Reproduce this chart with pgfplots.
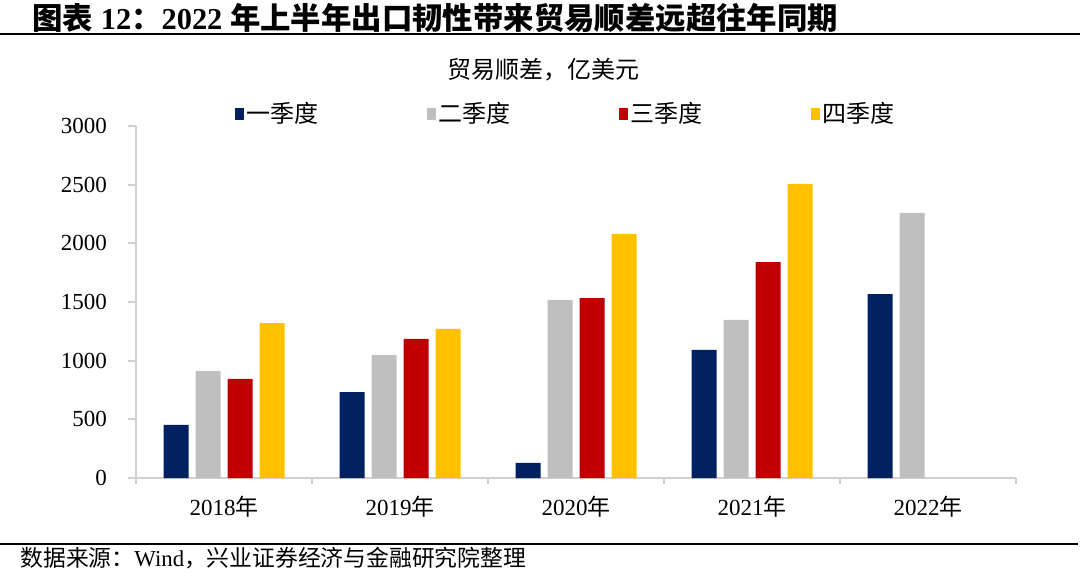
\documentclass[border=0pt]{standalone}
\usepackage{fontspec}
\setmainfont{Liberation Serif}
\newfontfamily\cjk{Noto Sans CJK SC}
\usepackage{pgfplots}
\pgfplotsset{compat=1.18}
\definecolor{qone}{HTML}{002060}
\definecolor{qtwo}{HTML}{BFBFBF}
\definecolor{qthree}{HTML}{C00000}
\definecolor{qfour}{HTML}{FFC000}
\definecolor{axisgray}{HTML}{D0D0D0}

\begin{document}
\begin{tikzpicture}
\useasboundingbox (0,0) rectangle (540pt,-289pt);
% title and rule
\node[anchor=west, inner sep=0pt] at (16pt,-9pt)
  {\fontsize{15.2}{17}\selectfont\bfseries{\cjk 图表} 12{\cjk ：}2022 {\cjk 年上半年出口韧性带来贸易顺差远超往年同期}};
\draw[line width=0.8pt] (0,-17pt) -- (540pt,-17pt);
\node at (271.5pt,-35pt) {\cjk\fontsize{12}{14}\selectfont 贸易顺差，亿美元};

\begin{axis}[
  at={(68pt,-239pt)}, anchor=south west,
  scale only axis, width=440pt, height=176pt,
  xmin=0, xmax=5, ymin=0, ymax=3000,
  axis x line*=bottom, axis y line*=left,
  axis line style={axisgray, line width=0.9pt, -},
  ybar=3.5pt, bar width=12.5pt,
  xtick={0.5,1.5,2.5,3.5,4.5},
  xticklabels={2018{\cjk 年},2019{\cjk 年},2020{\cjk 年},2021{\cjk 年},2022{\cjk 年}},
  minor xtick={0,1,2,3,4,5},
  ytick={0,500,...,3000},
  tick align=outside,
  major tick length=4pt, minor tick length=3pt,
  major x tick style={draw=none},
  minor x tick style={axisgray, line width=0.9pt},
  ytick style={axisgray, line width=0.9pt},
  scaled y ticks=false,
  /pgf/number format/assume math mode=true,
  /pgf/number format/set thousands separator={},
  tick label style={font=\fontsize{11.5}{13}\selectfont},
  yticklabel style={xshift=-7pt},
  xticklabel style={yshift=-1.5pt},
  legend columns=4,
  legend style={at={(0.1125,1.034)}, anchor=west, draw=none, fill=none,
    inner sep=0pt, nodes={inner sep=1pt},
    font=\cjk\fontsize{12}{14}\selectfont,
    /tikz/every even column/.append style={column sep=53.5pt}},
  legend image code/.code={\fill[#1] (0pt,-3pt) rectangle (4.5pt,3pt);},
]
\addplot[fill=qone, draw=none] coordinates {(0.5,452) (1.5,733) (2.5,128) (3.5,1091) (4.5,1568)};
\addplot[fill=qtwo, draw=none] coordinates {(0.5,912) (1.5,1048) (2.5,1517) (3.5,1347) (4.5,2259)};
\addplot[fill=qthree, draw=none] coordinates {(0.5,844) (1.5,1185) (2.5,1534) (3.5,1841)};
\addplot[fill=qfour, draw=none] coordinates {(0.5,1321) (1.5,1270) (2.5,2080) (3.5,2506)};
\legend{一季度,二季度,三季度,四季度}
\end{axis}

% source line
\draw[line width=1pt] (0,-272pt) -- (539pt,-272pt);
\node[anchor=west, inner sep=0pt] at (10pt,-279pt)
  {\fontsize{11.4}{13}\selectfont{\cjk 数据来源：}Wind{\cjk ，兴业证券经济与金融研究院整理}};
\end{tikzpicture}
\end{document}
